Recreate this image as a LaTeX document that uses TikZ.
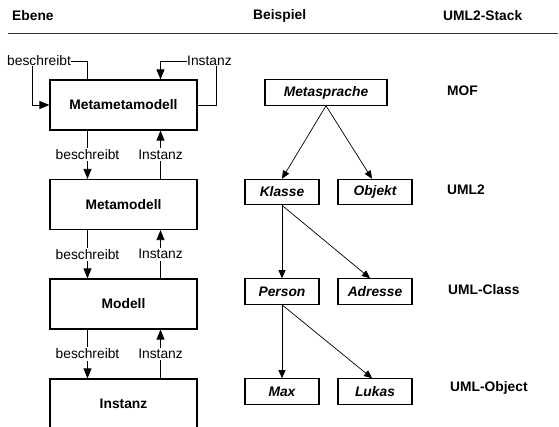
\documentclass[tikz,border=0pt]{standalone}
\usepackage{fontspec}
\setmainfont{Liberation Sans}
\usetikzlibrary{arrows.meta, positioning, calc}

\begin{document}
\begin{tikzpicture}[x=1pt, y=-1pt,
    font=\fontsize{13.8pt}{16pt}\selectfont,
    kopf/.style={inner sep=0pt, anchor=west, font=\fontsize{13.8pt}{16pt}\selectfont\bfseries},
    ebenebox/.style={draw, line width=1.2pt, minimum width=147pt, minimum height=50pt,
        font=\fontsize{13.8pt}{16pt}\selectfont\bfseries},
    bspbox/.style={draw, line width=1.1pt, minimum width=74pt, minimum height=25.5pt,
        inner sep=0pt, font=\fontsize{13.8pt}{16pt}\selectfont\bfseries\itshape},
    conlbl/.style={fill=white, inner sep=1.5pt},
    linie/.style={line width=0.8pt},
    pfeil/.style={line width=0.8pt, -{Triangle[length=10pt,width=8pt]}},
    kpfeil/.style={line width=0.7pt, -{Triangle[length=8pt,width=7pt]}}]
\useasboundingbox (0,0) rectangle (559,426);
\clip (0,0) rectangle (559,426);

% Kopfzeile
\node[kopf] (hEbene) at (12,16) {Ebene};
\node[kopf] (hBsp) at (253,16) {Beispiel};
\node[kopf] (hStack) at (443,16) {UML2-Stack};
\draw[line width=1pt, black!80] (8,33) -- (558,33);

% Ebenen
\node[ebenebox] (mmm) at (123.5,105) {Metametamodell};
\node[ebenebox] (mm) at (123.5,204.5) {Metamodell};
\node[ebenebox] (m) at (123.5,304) {Modell};
\node[ebenebox] (inst) at (123.5,404) {Instanz};

\foreach \a/\b in {mmm/mm, mm/m, m/inst} {
    \draw[pfeil] ([xshift=-36]\a.south) -- node[conlbl] {beschreibt} ([xshift=-36]\b.north);
    \draw[pfeil] ([xshift=37]\b.north) -- node[conlbl] {Instanz} ([xshift=37]\a.south);
}

% Selbstbezug
\node[conlbl, inner sep=0pt, anchor=west] (selfB) at (7,61) {beschreibt};
\node[conlbl, inner sep=0pt, anchor=west] (selfI) at (187,61) {Instanz};
\draw[linie] ([xshift=-36]mmm.north) |- (selfB.east);
\draw[pfeil] ([xshift=-6.5]selfB.south) |- (mmm.west);
\draw[linie] (mmm.east) -| ([xshift=6.5]selfI.south);
\draw[pfeil] (selfI.west) -| ([xshift=37]mmm.north);

% Beispiel
\node[bspbox, minimum width=122pt] (meta) at (326,92.5) {Metasprache};
\node[bspbox] (klasse) at (282,192) {Klasse};
\node[bspbox] (objekt) at (375,192) {Objekt};
\node[bspbox] (person) at (282,291.5) {Person};
\node[bspbox] (adresse) at (375,291.5) {Adresse};
\node[bspbox] (Max) at (282,391.5) {Max};
\node[bspbox] (Lukas) at (375,391.5) {Lukas};

\draw[kpfeil] (meta.south) -- (klasse.north);
\draw[kpfeil] (meta.south) -- ([xshift=-3]objekt.north);
\draw[kpfeil] (klasse.south) -- (person.north);
\draw[kpfeil] (klasse.south) -- ([xshift=-5]adresse.north);
\draw[kpfeil] (person.south) -- (Max.north);
\draw[kpfeil] (person.south) -- ([xshift=-3]Lukas.north);

% UML2-Stack
\node[kopf] (sMOF) at (447,91) {MOF};
\node[kopf] (sUML) at (447,190) {UML2};
\node[kopf] (sClass) at (448,290) {UML-Class};
\node[kopf] (sObject) at (450,388) {UML-Object};
\end{tikzpicture}
\end{document}
